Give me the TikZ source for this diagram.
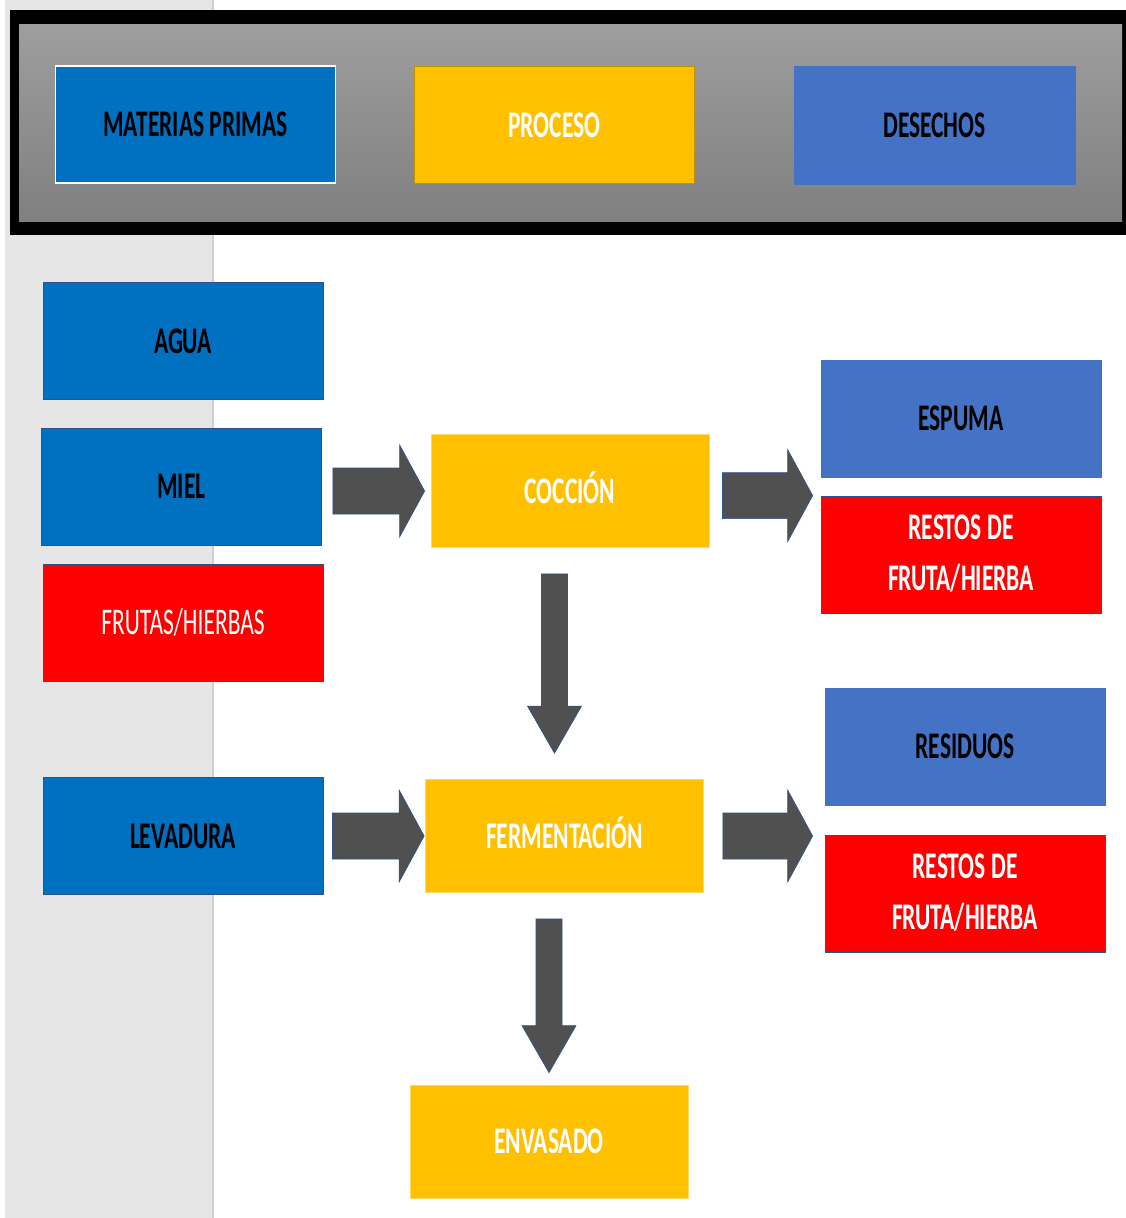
\documentclass[tikz,border=0pt]{standalone}
\usepackage{fontspec}
\setmainfont{Carlito}
\usepackage{graphicx}
\usetikzlibrary{calc}
\definecolor{mpblue}{HTML}{0070C0}
\definecolor{dsblue}{HTML}{4472C4}
\definecolor{edgeblue}{HTML}{2F528F}
\definecolor{procyel}{HTML}{FFC000}
\definecolor{procedge}{HTML}{BF9000}
\definecolor{yeledge}{HTML}{FFD966}
\definecolor{wred}{HTML}{FF0000}
\definecolor{arrowgray}{HTML}{505050}
\definecolor{stripgray}{HTML}{E6E6E6}
\definecolor{stripline}{HTML}{D0D0D0}
\newcommand\lbl[1]{\scalebox{1}[1.6]{\smash{#1}\vphantom{A}}}
\newcommand\twolbl[2]{\scalebox{1}[1.6]{\begin{tabular}{@{}c@{}}#1\\#2\end{tabular}}}
\newcommand\harrow[2]{%
  \path[barrow] let \p1=(#1), \p2=(#2) in
   (\x1,\y2+23pt) -- (\x2-25pt,\y2+23pt) -- (\x2-25pt,\y2+46pt) -- (\x2,\y2)
   -- (\x2-25pt,\y2-46pt) -- (\x2-25pt,\y2-23pt) -- (\x1,\y2-23pt) -- cycle;}
\newcommand\varrow[2]{%
  \path[barrow] let \p1=(#1), \p2=(#2) in
   (\x2-13pt,\y1) -- (\x2-13pt,\y2+47pt) -- (\x2-27pt,\y2+47pt) -- (\x2,\y2)
   -- (\x2+27pt,\y2+47pt) -- (\x2+13pt,\y2+47pt) -- (\x2+13pt,\y1) -- cycle;}
\tikzset{
  box/.style={rectangle, minimum width=280pt, minimum height=117pt, inner sep=0pt,
    font=\fontsize{23.5}{32}\selectfont\bfseries, line width=0.8pt},
  mpbox/.style={box, fill=mpblue, draw=edgeblue, text=black},
  dsbox/.style={box, fill=dsblue, draw=dsblue, text=black},
  prbox/.style={box, fill=procyel, draw=yeledge, text=white, minimum width=278pt, minimum height=113pt},
  rdbox/.style={box, fill=wred, draw=edgeblue, text=white},
  barrow/.style={fill=arrowgray, draw=edgeblue, line width=0.7pt, line join=miter}
}
\begin{document}
\begin{tikzpicture}[x=1pt,y=-1pt]
\useasboundingbox (0,0) rectangle (1126,1218);
\fill[white] (0,0) rectangle (1126,1218);
% left strip
\fill[stripgray] (5,0) rectangle (213,1218);
\draw[stripline, line width=1.2pt] (213,0) -- (213,1218);
% header frame
\fill[black] (10,10) rectangle (1130,235);
\shade[top color=black!38, bottom color=black!50] (19,24) rectangle (1122,221);
\node[box, fill=mpblue, draw=white, line width=1.5pt, text=black] (matprim) at (195.5,124.5) {\lbl{MATERIAS PRIMAS}};
\node[box, fill=procyel, draw=procedge, text=white] (proceso) at (554.5,125) {\lbl{PROCESO}};
\node[box, fill=dsblue, draw=dsblue, text=black, minimum width=281pt, minimum height=118pt] (desechos) at (934.5,125) {\lbl{DESECHOS}};
% raw materials
\node[mpbox] (agua) at (183,341) {\lbl{AGUA}};
\node[mpbox] (miel) at (181.5,486.5) {\lbl{MIEL}};
\node[rdbox, font=\fontsize{23.5}{32}\selectfont] (frutas) at (183,622.5) {\lbl{FRUTAS/HIERBAS}};
\node[mpbox] (levadura) at (183,836) {\lbl{LEVADURA}};
% process
\node[prbox] (coccion) at (570,491) {\lbl{COCCIÓN}};
\node[prbox] (ferm) at (564.5,836) {\lbl{FERMENTACIÓN}};
\node[prbox] (envasado) at (549,1141.5) {\lbl{ENVASADO}};
% waste
\node[dsbox] (espuma) at (961,418.5) {\lbl{ESPUMA}};
\node[rdbox] (restos1) at (961,554.5) {\twolbl{RESTOS DE}{FRUTA/HIERBA}};
\node[dsbox] (residuos) at (965,746.5) {\lbl{RESIDUOS}};
\node[rdbox] (restos2) at (965,894) {\twolbl{RESTOS DE}{FRUTA/HIERBA}};
% arrows
\coordinate (a1s) at ($(miel.east)+(11,0)$);
\coordinate (a1t) at ($(coccion.west)+(-6,0)$);
\harrow{a1s}{a1t}
\coordinate (a2s) at ($(coccion.east)+(13,0)$);
\coordinate (a2t) at ($(restos1.north west)+(-8,0)$);
\harrow{a2s}{a2t}
\coordinate (a3s) at ($(levadura.east)+(9,0)$);
\coordinate (a3t) at ($(ferm.west)+(-1,0)$);
\harrow{a3s}{a3t}
\coordinate (a4s) at ($(ferm.east)+(19,0)$);
\coordinate (a4t) at ($(restos2.west |- ferm.west)+(-12,0)$);
\harrow{a4s}{a4t}
\coordinate (d1s) at ($(coccion.south)+(-15,26)$);
\coordinate (d1t) at ($(ferm.north)+(-10,-26)$);
\varrow{d1s}{d1t}
\coordinate (d2s) at ($(ferm.south)+(-15,26)$);
\coordinate (d2t) at ($(envasado.north)+(0,-12)$);
\varrow{d2s}{d2t}
\end{tikzpicture}
\end{document}
